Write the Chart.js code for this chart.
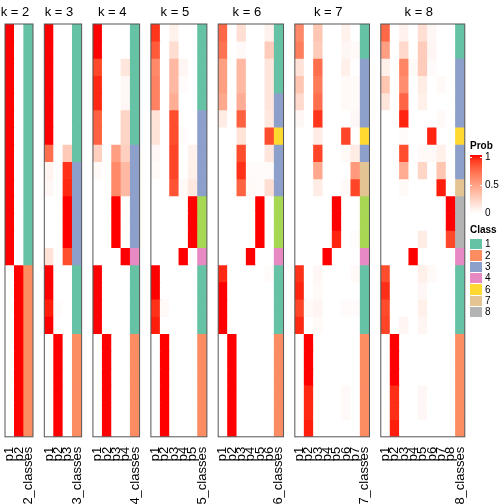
<!DOCTYPE html>
<html>
<head>
<meta charset="utf-8">
<script src="https://cdn.jsdelivr.net/npm/chart.js@4.4.1/dist/chart.umd.min.js"></script>
<style>
  html, body { margin:0; padding:0; background:#fff; }
  #wrap { position:relative; width:504px; height:504px; overflow:hidden; font-family:"Liberation Sans", Arial, sans-serif; }
  #wrap canvas { position:absolute; left:0; top:0; }
  .lg { position:absolute; white-space:nowrap; color:#000; }
</style>
</head>
<body>
<div id="wrap"></div>
<script>
// ---------------- DATA ----------------
const rowCount = 24;
const classColors = {1:'#66C2A5',2:'#FC8D62',3:'#8DA0CB',4:'#E78AC3',5:'#A6D854',6:'#FFD92F',7:'#E5C494',8:'#B3B3B3'};
const legendClasses = [1,2,3,4,6,7,8];
const probTicks = ['1','0.5','0'];

const probK2 = [
  [1,1,1,1,1,1,1,1,1,1,1,1,1,1,0,0,0,0,0,0,0,0,0,0],
  [0,0,0,0,0,0,0,0,0,0,0,0,0,0,1,1,1,1,1,1,1,1,1,1]
];
const classK2 = [1,1,1,1,1,1,1,1,1,1,1,1,1,1,2,2,2,2,2,2,2,2,2,2];

const probK3 = [
  [1,1,1,1,1,1,1,0.72,0.06,0.04,0,0,0,0.15,1,1,0.97,1,0,0,0,0,0,0],
  [0,0,0,0,0,0,0,0,0,0,0,0,0,0,0,0,0.02,0,1,1,1,1,1,1],
  [0,0,0,0,0,0,0,0.28,0.93,0.95,1,1,1,0.85,0,0,0,0,0,0,0,0,0,0]
];
const classK3 = [1,1,1,1,1,1,1,1,3,3,3,3,3,3,1,1,1,1,2,2,2,2,2,2];

const probK4 = [
  [1,1,0.87,0.95,0.95,0.78,0.78,0.25,0.03,0,0,0,0,0,1,1,1,1,0,0,0,0,0,0],
  [0,0,0,0,0,0,0,0,0,0,0,0,0,0,0,0,0,0,1,1,1,1,1,1],
  [0,0,0,0,0,0,0,0.5,0.6,0.6,1,1,1,0,0,0,0,0,0,0,0,0,0,0],
  [0,0,0.13,0.04,0.04,0.22,0.22,0.25,0.37,0.37,0,0,0,1,0,0,0,0,0,0,0,0,0,0]
];
const classK4 = [1,1,1,1,1,1,1,3,3,3,3,3,3,4,1,1,1,1,2,2,2,2,2,2];

const probK5 = [
  [0.92,0.8,0.6,0.63,0.63,0.15,0.15,0.04,0.03,0,0,0,0,0,1,1,0.93,0.97,0,0,0,0,0,0],
  [0,0,0,0,0,0,0,0,0,0,0,0,0,0,0,0,0.03,0,1,1,1,1,1,1],
  [0.07,0.18,0.37,0.37,0.42,0.85,0.85,0.88,0.88,0.83,0,0,0,0,0,0,0,0,0,0,0,0,0,0],
  [0,0,0.05,0.02,0,0,0.02,0,0,0.03,0,0,0,1,0,0,0,0,0,0,0,0,0,0],
  [0,0,0,0,0,0,0,0.07,0.08,0.12,1,1,1,0,0,0,0,0,0,0,0,0,0,0]
];
const classK5 = [1,1,1,1,1,3,3,3,3,3,5,5,5,4,1,1,1,1,2,2,2,2,2,2];

const probK6 = [
  [0.75,0.7,0.5,0.5,0.45,0.1,0,0,0,0,0,0,0,0,0.95,1,1,1,0,0,0,0,0,0],
  [0,0,0,0,0,0,0,0,0,0,0,0,0,0,0,0,0,0,1,1,1,1,1,1],
  [0.17,0.03,0.37,0.37,0.42,0.78,0.15,0.85,0.93,0.77,0,0,0,0,0,0,0,0,0,0,0,0,0,0],
  [0,0,0,0,0,0,0,0,0.02,0.03,0,0,0,1,0,0,0,0,0,0,0,0,0,0],
  [0,0,0,0,0,0,0,0,0.02,0.02,1,1,1,0,0,0,0,0,0,0,0,0,0,0],
  [0.07,0.27,0.13,0.13,0.13,0.12,0.85,0.13,0.02,0.17,0,0,0,0,0.02,0,0,0,0,0,0,0,0,0]
];
const classK6 = [1,1,1,1,3,3,6,3,3,3,5,5,5,4,1,1,1,1,2,2,2,2,2,2];

const probK7 = [
  [0.6,0.65,0.15,0.3,0.2,0.04,0,0,0,0,0,0,0,0,0.93,0.96,0.88,0.95,0,0,0,0,0,0],
  [0,0,0,0,0,0,0,0,0,0,0,0,0,0,0,0,0.03,0,1,1,1,0.95,0.95,0.97],
  [0.3,0.27,0.72,0.67,0.72,0.92,0.1,0.88,0.45,0.1,0,0,0,0,0.04,0.03,0.05,0.03,0,0,0,0,0,0],
  [0,0,0,0,0,0,0,0,0,0,0,0,0,1,0,0,0,0,0,0,0,0,0,0],
  [0,0,0,0,0,0,0,0,0,0,1,1,0.96,0,0,0,0,0,0,0,0,0,0,0],
  [0.07,0.04,0.08,0.03,0.03,0,0.88,0.03,0,0.03,0,0,0,0,0,0,0.02,0,0,0,0,0.03,0.03,0],
  [0,0.03,0,0.03,0.03,0.04,0,0.1,0.52,0.88,0,0,0.02,0,0.03,0,0.02,0,0,0,0,0,0,0]
];
const classK7 = [1,1,3,3,3,3,6,3,7,7,5,5,5,4,1,1,1,1,2,2,2,2,2,2];

const probK8 = [
  [0.75,0.5,0.08,0.3,0.14,0,0,0,0,0,0,0,0,0,0.85,0.94,0.86,0.88,0,0,0,0,0,0],
  [0,0,0,0,0,0,0,0,0,0,0,0,0,0,0,0,0,0,1,1,1,0.94,0.94,0.97],
  [0.07,0.2,0.62,0.58,0.76,0.96,0.02,0.85,0.43,0.03,0,0,0,0,0,0,0,0.05,0,0,0,0,0,0],
  [0,0,0.03,0,0,0,0,0,0,0,0,0,0,1,0,0,0,0,0,0,0,0,0,0],
  [0.17,0.27,0.27,0.1,0.08,0,0,0.03,0.22,0,0,0,0.1,0,0.08,0.04,0.08,0.05,0,0,0,0.04,0.04,0],
  [0.04,0.05,0.02,0,0,0,0.96,0.03,0,0,0,0,0,0,0.03,0,0,0,0,0,0,0,0,0],
  [0,0,0,0.03,0,0.03,0,0.08,0.3,0.97,0,0,0,0,0,0,0,0,0,0,0,0,0,0],
  [0,0,0,0,0,0,0,0,0,0,1,1,0.87,0,0,0,0,0,0,0,0,0,0,0]
];
const classK8 = [1,1,3,3,3,3,6,3,3,7,8,8,8,4,1,1,1,1,2,2,2,2,2,2];

const panels = [
  {k:2, probs:probK2, classes:classK2},
  {k:3, probs:probK3, classes:classK3},
  {k:4, probs:probK4, classes:classK4},
  {k:5, probs:probK5, classes:classK5},
  {k:6, probs:probK6, classes:classK6},
  {k:7, probs:probK7, classes:classK7},
  {k:8, probs:probK8, classes:classK8}
];

// ---------------- COLOR (LAB interpolation white -> red) ----------------
function toLin(c){ c/=255; return c<=0.04045 ? c/12.92 : Math.pow((c+0.055)/1.055,2.4); }
function fromLin(c){ c = c<=0.0031308 ? 12.92*c : 1.055*Math.pow(c,1/2.4)-0.055; return Math.max(0,Math.min(255,Math.round(c*255))); }
function rgb2lab(r,g,b){
  r=toLin(r); g=toLin(g); b=toLin(b);
  let x=(0.4124*r+0.3576*g+0.1805*b)/0.95047, y=(0.2126*r+0.7152*g+0.0722*b), z=(0.0193*r+0.1192*g+0.9505*b)/1.08883;
  const f=t=> t>0.008856 ? Math.cbrt(t) : 7.787*t+16/116;
  const fx=f(x), fy=f(y), fz=f(z);
  return [116*fy-16, 500*(fx-fy), 200*(fy-fz)];
}
function lab2rgb(L,a,b){
  const fy=(L+16)/116, fx=fy+a/500, fz=fy-b/200;
  const fi=t=> t*t*t>0.008856 ? t*t*t : (t-16/116)/7.787;
  const x=0.95047*fi(fx), y=fi(fy), z=1.08883*fi(fz);
  const r= 3.2406*x-1.5372*y-0.4986*z, g=-0.9689*x+1.8758*y+0.0415*z, bb=0.0557*x-0.2040*y+1.0570*z;
  return [fromLin(r),fromLin(g),fromLin(bb)];
}
const labW = rgb2lab(255,255,255), labR = rgb2lab(255,0,0);
function probColor(v){
  const t=Math.max(0,Math.min(1,v));
  const c=lab2rgb(labW[0]+(labR[0]-labW[0])*t, labW[1]+(labR[1]-labW[1])*t, labW[2]+(labR[2]-labW[2])*t);
  return 'rgb('+c[0]+','+c[1]+','+c[2]+')';
}

// ---------------- LAYOUT ----------------
const W = 504, H = 504;
const bodyTop = 24, bodyBottom = 436.8;
const colW = 9.333, firstLeft = 5, gap = 11.3;

Chart.defaults.font.family = '"Liberation Sans", Arial, sans-serif';
Chart.defaults.color = '#000';

const deco = {
  id:'deco',
  afterDraw(chart, args, opts){
    const {ctx, chartArea:a} = chart;
    ctx.save();
    ctx.strokeStyle = '#555';
    ctx.lineWidth = 1;
    ctx.strokeRect(a.left, a.top, a.right-a.left, a.bottom-a.top);
    ctx.font = '13px "Liberation Sans", Arial, sans-serif';
    ctx.fillStyle = '#000';
    ctx.textAlign = 'center';
    ctx.textBaseline = 'alphabetic';
    ctx.fillText(opts.text, (a.left+a.right)/2 - 4, 16);
    ctx.restore();
  }
};

const wrap = document.getElementById('wrap');
let left = firstLeft;
panels.forEach(p => {
  const nCols = p.k + 1;
  const width = nCols * colW;
  const right = left + width;
  const labels = [];
  for (let i=1;i<=p.k;i++) labels.push('p'+i);
  labels.push(p.k + '_classes');
  const datasets = [];
  for (let r=0;r<rowCount;r++){
    const colors = p.probs.map(col => probColor(col[r]));
    colors.push(classColors[p.classes[r]]);
    datasets.push({
      data: labels.map(()=>1),
      backgroundColor: colors,
      borderWidth: 0,
      barPercentage: 1,
      categoryPercentage: 1,
      stack: 's'
    });
  }
  const cv = document.createElement('canvas');
  cv.width = W; cv.height = H;
  cv.style.width = W+'px'; cv.style.height = H+'px';
  wrap.appendChild(cv);
  new Chart(cv, {
    type:'bar',
    data:{labels, datasets},
    options:{
      responsive:false,
      animation:false,
      events:[],
      layout:{padding:{top:bodyTop, left:left, right:W-right, bottom:0}},
      plugins:{legend:{display:false}, tooltip:{enabled:false}, title:{display:false}, deco:{text:'k = '+p.k}},
      scales:{
        x:{
          type:'category', stacked:true, offset:true,
          grid:{display:false}, border:{display:false},
          ticks:{font:{size:13}, color:'#000', minRotation:90, maxRotation:90, autoSkip:false, padding:2},
          afterFit(s){ s.height = H - bodyBottom; s.paddingLeft = 0; s.paddingRight = 0; }
        },
        y:{ type:'linear', stacked:true, min:0, max:rowCount, reverse:true, display:false }
      }
    },
    plugins:[deco]
  });
  left = right + gap;
});

// ---------------- LEGEND (HTML) ----------------
function addDiv(html, x, y, style){
  const d=document.createElement('div'); d.className='lg'; d.innerHTML=html;
  d.style.left=x+'px'; d.style.top=y+'px'; if(style) d.style.cssText+=style; wrap.appendChild(d); return d;
}
const lgX = 470;
addDiv('Prob', lgX, 140, 'font-weight:bold;font-size:10px;line-height:12px;');
const gTop = 155, gBot = 213;
const stops=[]; for(let i=0;i<=10;i++){ stops.push(probColor(1-i/10)+' '+(i*10)+'%'); }
addDiv('', lgX, gTop, 'width:12px;height:'+(gBot-gTop)+'px;background:linear-gradient(to bottom,'+stops.join(',')+');');
const tickYs = [157, 184.8, 212.5];
probTicks.forEach((t,i)=>{
  addDiv(t, lgX+15, tickYs[i]-6, 'font-size:10px;line-height:12px;');
  if (i<2){
    addDiv('', lgX, tickYs[i], 'width:2px;height:1px;background:#fff;');
    addDiv('', lgX+10, tickYs[i], 'width:2px;height:1px;background:#fff;');
  }
});
addDiv('Class', lgX, 224, 'font-weight:bold;font-size:10px;line-height:12px;');
legendClasses.forEach((c,i)=>{
  const y = 239 + i*11.33;
  addDiv('', lgX, y, 'width:11.5px;height:10.3px;background:'+classColors[c]+';');
  addDiv(String(c), lgX+15, y-0.8, 'font-size:10px;line-height:12px;');
});
</script>
</body>
</html>
